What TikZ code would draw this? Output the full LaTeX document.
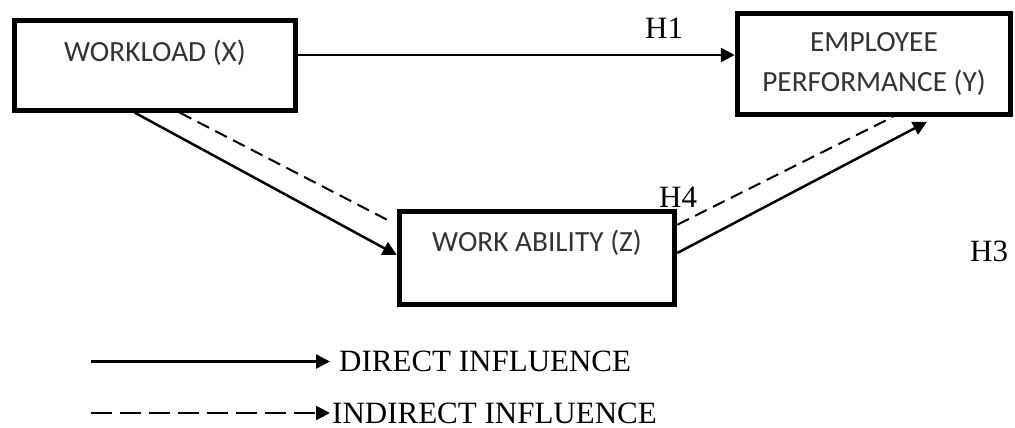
\documentclass[tikz,border=0pt]{standalone}
\usepackage{fontspec}
\setmainfont{Liberation Serif}
\newfontfamily\boxfont{Carlito}
\usepackage{tikz}
\usetikzlibrary{arrows.meta}
\definecolor{boxtext}{HTML}{333333}

\begin{document}
\begin{tikzpicture}[x=1pt,y=-1pt,
	varbox/.style={draw, line width=5pt, inner ysep=0pt, text=boxtext,
		font=\boxfont\fontsize{29.3}{40}\selectfont, align=center},
	direct/.style={line width=2.5pt, -{Triangle[length=14pt,width=14pt]}},
	indirect/.style={line width=2pt, dash pattern=on 13pt off 7pt},
	hyp/.style={inner sep=0pt, font=\fontsize{31}{37}\selectfont},
	legendtext/.style={inner sep=0pt, anchor=west, font=\fontsize{31}{37}\selectfont}]
				\useasboundingbox (0,0) rectangle (1015,428);
				\node[varbox, minimum width=281.5pt, text height=40.3pt, text depth=49pt]
				(x) at (155,65.5) {WORKLOAD (X)};
				\node[varbox, minimum width=273.5pt, minimum height=100.5pt]
				(y) at (874,64) {EMPLOYEE\\PERFORMANCE (Y)};
				\node[varbox, minimum width=275.5pt, text height=40.5pt, text depth=53pt]
				(z) at (537,258) {WORK ABILITY (Z)};
				\node[hyp, anchor=base west] (h1) at (645,39) {H1};
				\node[hyp, anchor=base west] (h4) at (659,207) {H4};
				\node[hyp, anchor=base west] (h3) at (970,261) {H3};
				\draw[direct] ([yshift=10.5pt]x.east) coordinate (xy) -- (y.west |- xy);
				\draw[direct] ([xshift=123pt]x.south west) -- ([yshift=3pt]z.west);
				\draw[indirect, shorten >=6pt] ([xshift=168pt]x.south west) -- ([yshift=-16pt]z.north west);
				\draw[direct] ([yshift=5pt]z.east) -- ([xshift=53pt,yshift=-5pt]y.south);
				\draw[indirect] ([yshift=-16pt]z.north east) -- ([xshift=19pt]y.south);
				\node[legendtext] (dlab) at (339,361.5) {DIRECT INFLUENCE};
				\node[legendtext] (ilab) at (332,413) {INDIRECT INFLUENCE};
				\draw[direct, shorten >=9pt] (91,361.5) coordinate (d0) -- (dlab.west);
				\draw[indirect, line width=2.5pt, dash pattern=on 21pt off 8pt, -{Triangle[length=14pt,width=14pt]}, shorten >=2pt]
				(91,413) coordinate (i0) -- (ilab.west);
			\end{tikzpicture}
\end{document}
